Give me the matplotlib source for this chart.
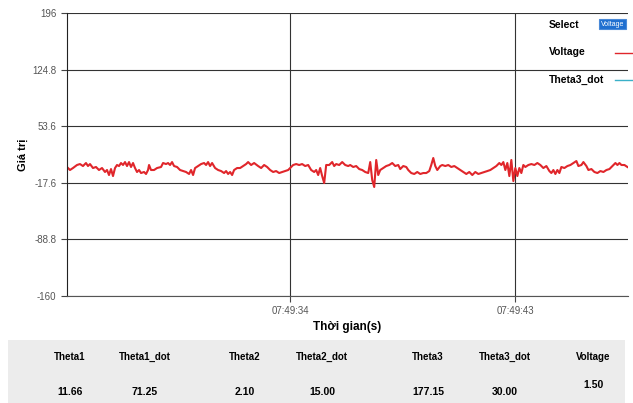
import matplotlib.pyplot as plt
from matplotlib.lines import Line2D
from matplotlib.patches import Rectangle

# time in seconds after 07:49:00, voltage readings
t = [25.08, 25.20, 25.32, 25.48, 25.60, 25.72, 25.84, 25.92, 26.00, 26.12, 26.24, 26.36, 26.48, 26.60,
     26.68, 26.76, 26.84, 26.92, 27.00, 27.08, 27.16, 27.24, 27.32, 27.40, 27.48, 27.56, 27.64, 27.72,
     27.80, 27.88, 27.96, 28.04, 28.16, 28.24, 28.32, 28.36, 28.44, 28.56, 28.68,
     28.84, 28.92, 29.04, 29.12, 29.20, 29.28, 29.36, 29.48, 29.60, 29.72, 29.84, 29.96, 30.04, 30.12,
     30.20, 30.32, 30.44, 30.56, 30.64, 30.72, 30.80, 30.88, 31.00, 31.12, 31.24, 31.36, 31.44, 31.52,
     31.60, 31.68, 31.76, 31.88, 32.00, 32.12, 32.24, 32.32, 32.44, 32.56,
     32.72, 32.84, 32.96, 33.08, 33.20, 33.32, 33.44, 33.56, 33.68, 33.80, 33.92, 34.00, 34.12, 34.24,
     34.36, 34.48, 34.60, 34.72, 34.84, 34.96, 35.04, 35.12, 35.20, 35.28, 35.36, 35.44, 35.56, 35.68,
     35.76, 35.84, 35.96, 36.08, 36.20, 36.32,
     36.40, 36.52, 36.64, 36.76, 36.88, 37.00, 37.12, 37.20, 37.28, 37.36, 37.44, 37.52, 37.60, 37.72,
     37.84, 37.96, 38.08, 38.20, 38.32, 38.40, 38.52, 38.64, 38.72, 38.84, 38.96, 39.08, 39.20, 39.32,
     39.44, 39.56, 39.64, 39.72, 39.80, 39.88, 40.00,
     40.08, 40.20, 40.32, 40.44, 40.56, 40.68, 40.80, 40.92, 41.04, 41.16, 41.28, 41.40, 41.52, 41.64,
     41.76, 41.88, 42.00, 42.12, 42.24, 42.36, 42.44, 42.52, 42.60, 42.68, 42.76, 42.84, 42.92, 43.00,
     43.08, 43.16, 43.24, 43.32, 43.40, 43.52, 43.64, 43.76, 43.88,
     44.00, 44.12, 44.24, 44.36, 44.44, 44.52, 44.60, 44.68, 44.76, 44.84, 44.96, 45.08, 45.20, 45.32,
     45.44, 45.52, 45.64, 45.72, 45.84, 45.92, 46.04, 46.16, 46.28, 46.40, 46.52, 46.64, 46.76, 46.88,
     47.00, 47.08, 47.16, 47.24, 47.36, 47.48]
voltage = [2.3, -1.5, 1.0, 4.8, 6.0, 3.5, 7.3, 3.5, 6.0, 1.0, 2.3, -1.5, 1.0, -4.0,
           -1.5, -7.8, -0.3, -9.1, 1.0, 4.8, 3.5, 7.3, 4.8, 8.5, 3.5, 8.5, 2.3, 7.3,
           1.0, -4.0, -1.5, -5.3, -4.0, -6.5, -1.5, 4.8, -1.5, -1.5, 1.0,
           2.3, 7.3, 6.0, 7.3, 4.8, 8.5, 3.5, 2.3, -1.5, -2.8, -4.0, -6.5, -1.5, -7.8,
           1.0, 3.5, 6.0, 7.3, 4.8, 8.5, 3.5, 7.3, 1.0, -1.5, -2.8, -5.3, -2.8, -6.5,
           -4.0, -7.8, -1.5, 1.0, 1.0, 3.5, 6.0, 8.5, 4.8, 7.3,
           3.5, 1.0, 4.8, 2.3, -1.5, -4.0, -2.8, -5.3, -4.0, -2.8, -1.5, 1.0, 4.8, 6.0,
           4.8, 6.0, 3.5, 4.8, -1.5, -4.0, -1.5, -7.8, 1.0, -9.1, -17.9, 4.8, 4.8, 8.5,
           3.5, 6.0, 4.8, 8.5, 4.8, 3.5,
           4.8, 2.3, 3.5, -0.3, -1.5, -4.0, -5.3, 8.5, -14.1, -22.9, 11.1, -7.8, -1.5, 1.0,
           3.5, 4.8, 7.3, 3.5, 4.8, -0.3, 3.5, 2.3, -1.5, -5.3, -6.5, -4.0, -6.5, -5.3,
           -5.3, -2.8, 4.8, 13.6, 3.5, -1.5, 3.5,
           4.8, 3.5, 4.8, 2.3, 3.5, 1.0, -1.5, -4.0, -6.5, -4.0, -7.8, -4.0, -6.5, -5.3,
           -4.0, -2.8, -1.5, 1.0, 3.5, 7.3, 4.8, 8.5, -1.5, 7.3, -9.1, 11.1, -15.4, 1.0,
           -9.1, 1.0, -5.3, 4.8, 2.3, 4.8, 6.0, 4.8, 7.3,
           4.8, 1.0, 3.5, -2.8, -5.3, -1.5, -6.5, -1.5, -5.3, 2.3, 1.0, 3.5, 4.8, 7.3,
           9.8, 3.5, 4.8, 8.5, 3.5, -1.5, -0.3, -4.0, -5.3, -2.8, -4.0, -1.5, -0.3, 3.5,
           7.3, 4.8, 7.3, 4.8, 4.8, 2.3]

y_ticks = [-160, -88.8, -17.6, 53.6, 124.8, 196]
y_labels = ['-160', '-88.8', '-17.6', '53.6', '124.8', '196']
x_ticks = [34, 43]
x_labels = ['07:49:34', '07:49:43']

names = ['Theta1', 'Theta1_dot', 'Theta2', 'Theta2_dot', 'Theta3', 'Theta3_dot', 'Voltage']
readings = ['11.66', '71.25', '2.10', '15.00', '177.15', '30.00', '1.50']

plt.rcParams['font.family'] = ['Liberation Sans Narrow', 'Liberation Sans', 'DejaVu Sans']

fig = plt.figure(figsize=(6.33, 4.03), dpi=100)
ax = fig.add_axes([0.1058, 0.2655, 0.8862, 0.7022])

ax.plot(t, voltage, color='#e0262b', lw=1.5)

ax.set_xlim(25.08, 47.5)
ax.set_ylim(-160, 196)
ax.set_yticks(y_ticks)
ax.set_yticklabels(y_labels)
ax.set_xticks(x_ticks)
ax.set_xticklabels(x_labels)
ax.tick_params(axis='both', labelsize=7, labelcolor='#555555', color='#444444', length=4, width=0.8)
ax.grid(True, color='#333333', lw=0.8)
for s in ['top', 'right']:
    ax.spines[s].set_visible(False)
ax.spines['left'].set_color('#222222')
ax.spines['bottom'].set_color('#555555')

ax.set_ylabel('Giá trị', fontsize=8, fontweight='bold', family=['Liberation Sans', 'DejaVu Sans'], labelpad=3)
ax.set_xlabel('Thời gian(s)', fontsize=8.5, fontweight='bold', family=['Liberation Sans', 'DejaVu Sans'], labelpad=3)

# legend / selector in the top right corner
fig.text(549 / 633, 1 - 25 / 403, 'Select', fontsize=7.5, fontweight='bold', va='center')
fig.text(601 / 633, 1 - 24 / 403, 'Voltage', fontsize=5, color='white', va='center',
         bbox=dict(boxstyle='square,pad=0.25', fc='#1f6fd0', ec='#4a8ad8', lw=0.8))
fig.text(549 / 633, 1 - 52 / 403, 'Voltage', fontsize=7.5, fontweight='bold', va='center')
fig.text(549 / 633, 1 - 80 / 403, 'Theta3_dot', fontsize=7.5, fontweight='bold', va='center')
fig.add_artist(Line2D([615 / 633, 633 / 633], [1 - 53 / 403] * 2, color='#e0262b', lw=1))
fig.add_artist(Line2D([615 / 633, 633 / 633], [1 - 80 / 403] * 2, color='#3ab0c8', lw=1))

# table of current readings
fig.add_artist(Rectangle((8 / 633, 0), 617 / 633, 63 / 403, facecolor='#ececec', edgecolor='none'))
col_x = [70, 145, 245, 322, 428, 505, 593]
for i in range(len(names)):
    fig.text(col_x[i] / 633, 1 - 357 / 403, names[i], fontsize=7, fontweight='bold', ha='center', va='center')
    vy = 385 if names[i] == 'Voltage' else 392
    fig.text(col_x[i] / 633, 1 - vy / 403, readings[i], fontsize=7.5, fontweight='bold', ha='center', va='center')

fig.savefig('out.png', dpi=100)
